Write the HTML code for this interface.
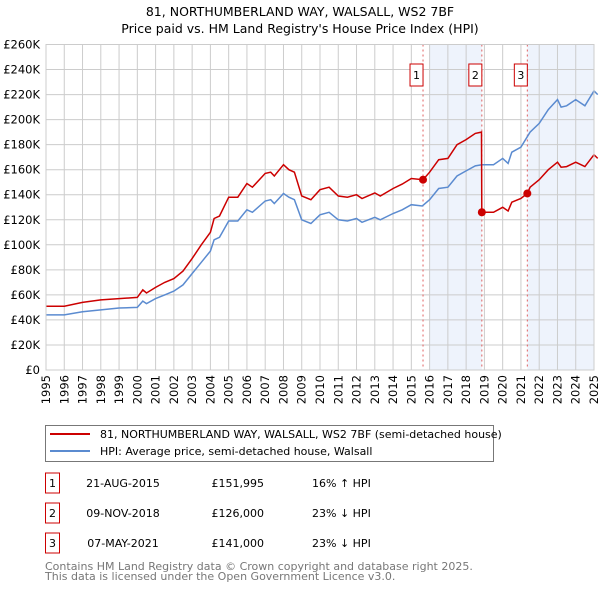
<!DOCTYPE html>
<html><head><meta charset="utf-8"><style>
body{margin:0;background:#fff;font-family:"Liberation Sans","DejaVu Sans",sans-serif;}
svg text{font-family:"DejaVu Sans","Liberation Sans",sans-serif;}
</style></head><body>
<svg id="chart" width="600" height="590" xmlns="http://www.w3.org/2000/svg">
<text x="300" y="16" text-anchor="middle" font-size="12.5" fill="#000">81, NORTHUMBERLAND WAY, WALSALL, WS2 7BF</text>
<text x="300" y="33" text-anchor="middle" font-size="12.5" fill="#000">Price paid vs. HM Land Registry's House Price Index (HPI)</text>
<g id="plot"></g>
<g>
<rect x="45.5" y="425.5" width="448" height="36" fill="#fff" stroke="#777"/>
<line x1="50" y1="434" x2="90" y2="434" stroke="#cc0000" stroke-width="2"/>
<text x="100" y="438" font-size="11">81, NORTHUMBERLAND WAY, WALSALL, WS2 7BF (semi-detached house)</text>
<line x1="50" y1="451" x2="90" y2="451" stroke="#5b8bd0" stroke-width="2"/>
<text x="100" y="455" font-size="11">HPI: Average price, semi-detached house, Walsall</text>
</g>
<g id="table" font-size="11"></g>
<text x="45" y="570" font-size="11" fill="#777">Contains HM Land Registry data © Crown copyright and database right 2025.</text>
<text x="45" y="580" font-size="11" fill="#777">This data is licensed under the Open Government Licence v3.0.</text>
</svg>
<script>
const yearsHPI=[1995,1996,1997,1998,1999,2000,2000.3,2000.5,2001,2001.5,2002,2002.5,2003,2003.5,2004,2004.2,2004.5,2005,2005.5,2006,2006.3,2007,2007.3,2007.5,2008,2008.3,2008.6,2009,2009.5,2010,2010.5,2011,2011.5,2012,2012.3,2013,2013.3,2014,2014.5,2015,2015.6,2016,2016.5,2017,2017.5,2018,2018.5,2018.86,2019,2019.5,2020,2020.3,2020.5,2021,2021.5,2022,2022.5,2023,2023.2,2023.5,2024,2024.5,2025,2025.2];
const hpiValues=[44,44,46.5,48,49.5,50,55,53,57,60,63,68,77,86,95,104,106,119,119,128,126,135,136,133,141,138,136,120,117,124,126,120,119,121,118,122,120,125,128,132,131,136,145,146,155,159,163,164,164,164,169,165,174,178,190,197,208,216,210,211,216,211,223,220];
const yearsPrice=[1995,1996,1997,1998,1999,2000,2000.3,2000.5,2001,2001.5,2002,2002.5,2003,2003.5,2004,2004.2,2004.5,2005,2005.5,2006,2006.3,2007,2007.3,2007.5,2008,2008.3,2008.6,2009,2009.5,2010,2010.5,2011,2011.5,2012,2012.3,2013,2013.3,2014,2014.5,2015,2015.64,2016,2016.5,2017,2017.5,2018,2018.5,2018.84,2018.86,2019,2019.5,2020,2020.3,2020.5,2021,2021.35,2021.5,2022,2022.5,2023,2023.2,2023.5,2024,2024.5,2025,2025.2];
const priceValues=[51,51,54,56,57,58,64,61.5,66,70,73,79,89,100,110,121,123,138,138,149,146,157,158,155,164,160,158,139,136,144,146,139,138,140,137,141.5,139,145,148.5,153,152,158,168,169,180,184,189,190,126,126,126,130,127,134,137,141,146,152,160,166,162,162.5,166,162.5,172,169];
const saleYears=[2015.64,2018.86,2021.35];
const saleValues=[151.995,126,141];
const saleLabels=["1","2","3"];
const saleDates=["21-AUG-2015","09-NOV-2018","07-MAY-2021"];
const salePrices=["£151,995","£126,000","£141,000"];
const saleDiffs=["16% ↑ HPI","23% ↓ HPI","23% ↓ HPI"];
const yTicks=[0,20,40,60,80,100,120,140,160,180,200,220,240,260];
const xTicks=[1995,1996,1997,1998,1999,2000,2001,2002,2003,2004,2005,2006,2007,2008,2009,2010,2011,2012,2013,2014,2015,2016,2017,2018,2019,2020,2021,2022,2023,2024,2025];

const X0=46,X1=594,Y0=370,Y1=44.5;
const xs=y=>X0+(y-1995)*(X1-X0)/30;
const ys=v=>Y0-v*(Y0-Y1)/260;
const NS="http://www.w3.org/2000/svg";
const plot=document.getElementById('plot');
function mk(tag,attrs,parent,txt){const e=document.createElementNS(NS,tag);for(const k in attrs)e.setAttribute(k,attrs[k]);if(txt!==undefined)e.textContent=txt;(parent||plot).appendChild(e);return e;}
let s1=mk('rect',{x:xs(2016.0),y:Y1,width:xs(saleYears[1])-xs(2016.0),height:Y0-Y1,fill:'#eef3fc'});


let s2=mk('rect',{x:xs(saleYears[2]),y:Y1,width:xs(2025)-xs(saleYears[2]),height:Y0-Y1,fill:'#eef3fc'});


yTicks.forEach(t=>{
 let l=mk('line',{x1:X0,x2:X1,y1:ys(t),y2:ys(t),stroke:'#cccccc'});
 
 
 let tx=mk('text',{x:X0-6,y:ys(t)+4,'text-anchor':'end','font-size':'11.5'},plot,t===0?'£0':'£'+t+'K');
 
 
});
xTicks.forEach(t=>{
 let l=mk('line',{x1:xs(t),x2:xs(t),y1:Y1,y2:Y0,stroke:'#cccccc'});
 
 
 const tx0=xs(t)+4, ty0=375;
 let tx=mk('text',{x:tx0,y:ty0,'text-anchor':'end','font-size':'11.5',transform:'rotate(-90 '+tx0+' '+ty0+')'},plot,String(t));
 
 
});
saleYears.forEach((y,i)=>{
 let l=mk('line',{x1:xs(y),x2:xs(y),y1:Y1,y2:Y0,stroke:'#e06060','stroke-dasharray':'2,3'});
 
 
 let r=mk('rect',{x:xs(y)-13,y:64,width:13,height:22,fill:'#fff',stroke:'#cc0000'});
 
 
 mk('text',{x:xs(y)-6.5,y:79,'text-anchor':'middle','font-size':'11'},plot,saleLabels[i]);
});
const pts=(xa,va)=>xa.map((y,i)=>xs(y).toFixed(1)+','+ys(va[i]).toFixed(1)).join(' ');
let hp=mk('polyline',{points:pts(yearsHPI,hpiValues),fill:'none',stroke:'#5b8bd0','stroke-width':1.5});


let pp=mk('polyline',{points:pts(yearsPrice,priceValues),fill:'none',stroke:'#cc0000','stroke-width':1.5});


saleYears.forEach((y,i)=>{
 let c=mk('circle',{cx:xs(y),cy:ys(saleValues[i]),r:4,fill:'#cc0000'});
 
 
});
mk('rect',{x:X0,y:Y1,width:X1-X0,height:Y0-Y1,fill:'none',stroke:'#cccccc'});
const tbl=document.getElementById('table');
saleYears.forEach((y,i)=>{
 const ty=473+i*30;
 let r=mk('rect',{x:45.5,y:ty,width:14,height:20,fill:'#fff',stroke:'#cc0000'},tbl);
 
 
 mk('text',{x:52.5,y:ty+14,'text-anchor':'middle'},tbl,saleLabels[i]);
 let d=mk('text',{x:123,y:ty+14,'text-anchor':'middle'},tbl,saleDates[i]);
 
 
 let p=mk('text',{x:264,y:ty+14,'text-anchor':'end'},tbl,salePrices[i]);
 
 
 let h=mk('text',{x:312,y:ty+14},tbl,saleDiffs[i]);
 
 
});
</script>
</body></html>
